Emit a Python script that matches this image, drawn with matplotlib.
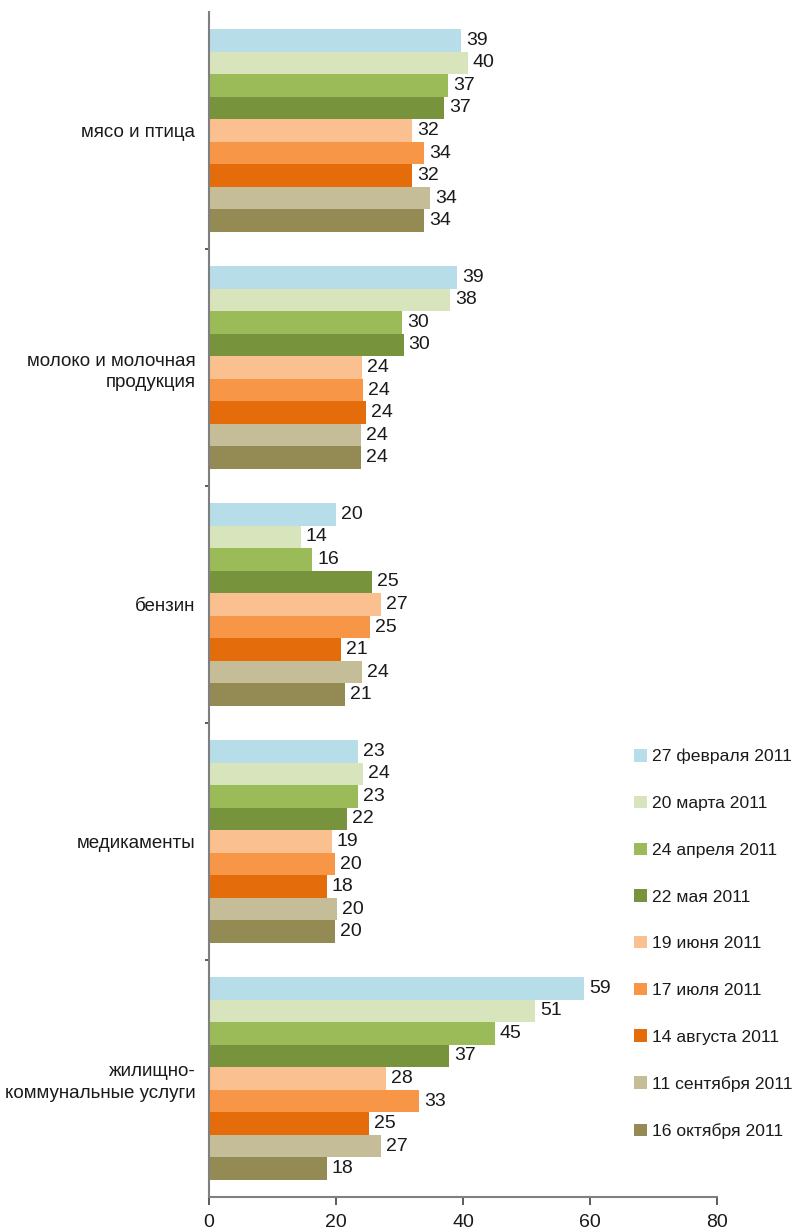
import matplotlib
matplotlib.use("Agg")
import matplotlib.pyplot as plt
from matplotlib.patches import Patch
from matplotlib import font_manager

families = [f.name for f in font_manager.fontManager.ttflist]
main_font = "Liberation Sans Narrow" if "Liberation Sans Narrow" in families else "Liberation Sans"
plt.rcParams['font.family'] = [main_font, 'DejaVu Sans']

categories = ["мясо и птица", "молоко и молочная\nпродукция", "бензин",
              "медикаменты", "жилищно-\nкоммунальные услуги"]

series_names = ["27 февраля 2011", "20 марта 2011", "24 апреля 2011", "22 мая 2011",
                "19 июня 2011", "17 июля 2011", "14 августа 2011", "11 сентября 2011",
                "16 октября 2011"]

colors = ["#B7DDE8", "#D8E4BC", "#9BBB59", "#77933C", "#FAC090",
          "#F79646", "#E46C0A", "#C4BD97", "#948A54"]

# values per series, in category order
feb27 = [39.7, 39.1, 20.0, 23.5, 59.0]
mar20 = [40.8, 38.0, 14.5, 24.3, 51.3]
apr24 = [37.7, 30.4, 16.3, 23.5, 45.0]
may22 = [37.0, 30.7, 25.7, 21.8, 37.8]
jun19 = [32.0, 24.1, 27.1, 19.4, 27.9]
jul17 = [33.9, 24.3, 25.4, 19.9, 33.1]
aug14 = [32.0, 24.8, 20.8, 18.6, 25.2]
sep11 = [34.8, 24.0, 24.1, 20.2, 27.1]
oct16 = [33.9, 24.0, 21.5, 19.9, 18.6]

labels_feb27 = [39, 39, 20, 23, 59]
labels_mar20 = [40, 38, 14, 24, 51]
labels_apr24 = [37, 30, 16, 23, 45]
labels_may22 = [37, 30, 25, 22, 37]
labels_jun19 = [32, 24, 27, 19, 28]
labels_jul17 = [34, 24, 25, 20, 33]
labels_aug14 = [32, 24, 21, 18, 25]
labels_sep11 = [34, 24, 24, 20, 27]
labels_oct16 = [34, 24, 21, 20, 18]

series = [feb27, mar20, apr24, may22, jun19, jul17, aug14, sep11, oct16]
series_labels = [labels_feb27, labels_mar20, labels_apr24, labels_may22, labels_jun19,
                 labels_jul17, labels_aug14, labels_sep11, labels_oct16]

xticks = [0, 20, 40, 60, 80]

fig = plt.figure(figsize=(7.94, 12.32), dpi=100)
ax = fig.add_axes([208.5 / 794, 35 / 1232, 509 / 794, 1185 / 1232])

n = len(series)
group_w = 0.855
h = group_w / n
FS = 14
TXT = '#1a1a1a'

for j, (vals, labs, col) in enumerate(zip(series, series_labels, colors)):
    ys = [i + (j - (n - 1) / 2) * h for i in range(len(categories))]
    bars = ax.barh(ys, vals, height=h, color=col, edgecolor='none', label=series_names[j])
    ax.bar_label(bars, labels=[str(v) for v in labs], padding=3.5, fontsize=FS, color=TXT)

ax.set_ylim(len(categories) - 0.5, -0.5)
ax.set_xlim(0, 80)
ax.set_xticks(xticks)
ax.set_xticklabels([str(t) for t in xticks], fontsize=FS, color=TXT)
ax.tick_params(axis='x', direction='out', length=6, width=1.2, color='#404040', pad=6)

ax.set_yticks(range(len(categories)))
ax.set_yticklabels(categories, fontsize=13.5, ha='right', multialignment='right',
                   linespacing=1.35, color=TXT)
ax.tick_params(axis='y', which='major', length=0, pad=9.5)
ax.set_yticks([i + 0.5 for i in range(len(categories) - 1)], minor=True)
ax.tick_params(axis='y', which='minor', direction='out', length=3, width=1.2, color='#404040')

for s in ['top', 'right']:
    ax.spines[s].set_visible(False)
for s in ['left', 'bottom']:
    ax.spines[s].set_color('#7f7f7f')
    ax.spines[s].set_linewidth(1.5)

handles = [Patch(facecolor=c, edgecolor='none') for c in colors]
fig.legend(handles, series_names, loc='upper left',
           bbox_to_anchor=(634 / 794, 1 - 749 / 1232), frameon=False,
           fontsize=12.6, handlelength=0.72, handleheight=0.72, handletextpad=0.3,
           labelspacing=1.79, borderaxespad=0, borderpad=0, labelcolor=TXT)

fig.savefig("out.png", dpi=100)
